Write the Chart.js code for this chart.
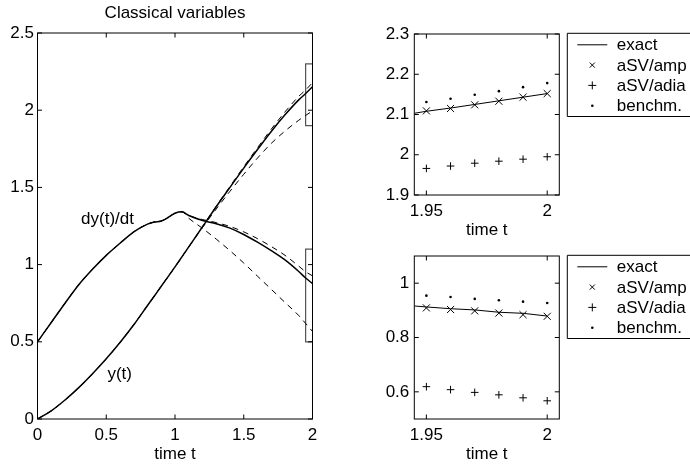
<!DOCTYPE html>
<html>
<head>
<meta charset="utf-8">
<script src="https://cdn.jsdelivr.net/npm/chart.js@4.4.0/dist/chart.umd.min.js"></script>
<style>
  html, body { margin: 0; padding: 0; background: #fff; overflow: hidden; width: 690px; height: 466px; }
  .panel { position: absolute; }
</style>
</head>
<body>
<div class="panel" style="left:0;top:0"><canvas id="main" width="345" height="466"></canvas></div>
<div class="panel" style="left:345px;top:0"><canvas id="zoomTop" width="360" height="242"></canvas></div>
<div class="panel" style="left:345px;top:240px"><canvas id="zoomBot" width="360" height="226"></canvas></div>
<script>
// ---- left panel: classical variables over 0..2
const tMain = [0, 0.1, 0.2, 0.3, 0.4, 0.5, 0.6, 0.7, 0.8, 0.85, 0.9, 0.95, 1.0, 1.05, 1.1, 1.2, 1.3, 1.4, 1.5, 1.6, 1.7, 1.8, 1.9, 1.95, 2.0];
const yExact   = [0, 0.053, 0.123, 0.203, 0.293, 0.39, 0.495, 0.61, 0.735, 0.797, 0.86, 0.922, 0.985, 1.05, 1.115, 1.245, 1.375, 1.5, 1.625, 1.745, 1.862, 1.97, 2.067, 2.108, 2.152];
const yBench   = [0, 0.053, 0.123, 0.203, 0.293, 0.39, 0.495, 0.61, 0.735, 0.797, 0.86, 0.922, 0.985, 1.05, 1.115, 1.247, 1.379, 1.507, 1.634, 1.757, 1.877, 1.989, 2.09, 2.131, 2.178];
const yAdia    = [0, 0.053, 0.123, 0.203, 0.293, 0.39, 0.495, 0.61, 0.735, 0.797, 0.86, 0.922, 0.985, 1.05, 1.114, 1.24, 1.36, 1.475, 1.585, 1.69, 1.785, 1.865, 1.935, 1.966, 1.995];
const dyExact  = [0.5, 0.625, 0.75, 0.87, 0.97, 1.06, 1.138, 1.212, 1.262, 1.276, 1.282, 1.305, 1.333, 1.342, 1.318, 1.286, 1.265, 1.236, 1.195, 1.145, 1.09, 1.03, 0.955, 0.913, 0.877];
const dyBench  = [0.5, 0.625, 0.75, 0.87, 0.97, 1.06, 1.138, 1.212, 1.262, 1.276, 1.282, 1.305, 1.333, 1.342, 1.318, 1.292, 1.272, 1.247, 1.212, 1.168, 1.117, 1.06, 0.99, 0.954, 0.927];
const dyAdia   = [0.5, 0.625, 0.75, 0.87, 0.97, 1.06, 1.138, 1.212, 1.262, 1.276, 1.282, 1.305, 1.333, 1.342, 1.30, 1.235, 1.165, 1.09, 1.01, 0.925, 0.84, 0.755, 0.67, 0.619, 0.567];
const mainXTicks = [0, 0.5, 1, 1.5, 2];
const mainYTicks = [0, 0.5, 1, 1.5, 2, 2.5];

// zoom windows marked on the left panel
const zoomT = [1.95, 2];
const zoomTopY = [1.9, 2.3];
const zoomBotY = [0.5, 1.1];

// ---- right panels: close-up of t in [1.95, 2]
const tExactZoom = [1.945, 1.95, 1.96, 1.97, 1.98, 1.99, 2.0];
const tZoom = [1.95, 1.96, 1.97, 1.98, 1.99, 2.0];
const topExact = [2.103, 2.108, 2.116, 2.125, 2.134, 2.143, 2.152];
const topAmp   = [2.109, 2.115, 2.124, 2.133, 2.143, 2.152];
const topAdia  = [1.966, 1.972, 1.979, 1.984, 1.989, 1.995];
const topBench = [2.131, 2.139, 2.149, 2.158, 2.168, 2.178];
const botExact = [0.916, 0.9125, 0.906, 0.9015, 0.893, 0.889, 0.879];
const botAmp   = [0.909, 0.903, 0.898, 0.890, 0.884, 0.878];
const botAdia  = [0.619, 0.608, 0.598, 0.589, 0.578, 0.567];
const botBench = [0.954, 0.949, 0.942, 0.937, 0.932, 0.927];
const zoomXTicks = [1.95, 2];
const topYTicks = [1.9, 2, 2.1, 2.2, 2.3];
const botYTicks = [0.6, 0.8, 1];
const seriesNames = ['exact', 'aSV/amp', 'aSV/adia', 'benchm.'];

Chart.defaults.font.family = '"Liberation Sans", Arial, Helvetica, sans-serif';
Chart.defaults.font.size = 17;
Chart.defaults.color = '#000';

const pts = (xs, ys) => xs.map((x, i) => ({ x: x, y: ys[i] }));

function drawMarker(ctx, style, r, x, y) {
  ctx.beginPath();
  if (style === 'crossRot') {
    const d = r * Math.SQRT1_2;
    ctx.moveTo(x - d, y - d); ctx.lineTo(x + d, y + d);
    ctx.moveTo(x + d, y - d); ctx.lineTo(x - d, y + d);
    ctx.stroke();
  } else if (style === 'cross') {
    ctx.moveTo(x - r, y); ctx.lineTo(x + r, y);
    ctx.moveTo(x, y - r); ctx.lineTo(x, y + r);
    ctx.stroke();
  } else {
    ctx.arc(x, y, r, 0, Math.PI * 2);
    ctx.fill();
  }
}

// box around the axes and the inward tick marks
const frame = {
  id: 'frame',
  afterDraw(chart) {
    const { ctx, chartArea: a, scales } = chart;
    const len = 4.5;
    ctx.save();
    ctx.strokeStyle = '#000';
    ctx.lineWidth = 1;
    ctx.strokeRect(a.left, a.top, a.right - a.left, a.bottom - a.top);
    ctx.beginPath();
    scales.x.ticks.forEach(t => {
      const p = scales.x.getPixelForValue(t.value);
      ctx.moveTo(p, a.bottom); ctx.lineTo(p, a.bottom - len);
      ctx.moveTo(p, a.top); ctx.lineTo(p, a.top + len);
    });
    scales.y.ticks.forEach(t => {
      const p = scales.y.getPixelForValue(t.value);
      ctx.moveTo(a.left, p); ctx.lineTo(a.left + len, p);
      ctx.moveTo(a.right, p); ctx.lineTo(a.right - len, p);
    });
    ctx.stroke();
    ctx.restore();
  }
};

// title and the curve names on the left panel
const notes = {
  id: 'notes',
  afterDraw(chart, args, opts) {
    const { ctx, chartArea: a, scales } = chart;
    ctx.save();
    ctx.fillStyle = '#000';
    ctx.font = '17px "Liberation Sans", Arial, sans-serif';
    ctx.textAlign = 'center';
    ctx.textBaseline = 'middle';
    if (opts.title) ctx.fillText(opts.title, (a.left + a.right) / 2, opts.titleY);
    (opts.items || []).forEach(n => {
      ctx.fillText(n.text, scales.x.getPixelForValue(n.x), scales.y.getPixelForValue(n.y));
    });
    ctx.restore();
  }
};

// boxed legend to the right of a zoom panel (its right side runs off the page)
const boxLegend = {
  id: 'boxLegend',
  afterDraw(chart, args, opts) {
    if (!opts.show) return;
    const { ctx, chartArea: a, width } = chart;
    const left = a.right + 8, top = a.top - 0.7, rowH = 20.3;
    const sets = chart.data.datasets.filter(d => d.label);
    const bottom = top + rowH * sets.length + 2;
    ctx.save();
    ctx.strokeStyle = '#000';
    ctx.fillStyle = '#000';
    ctx.lineWidth = 1;
    ctx.beginPath();
    ctx.moveTo(width + 5, top); ctx.lineTo(left, top); ctx.lineTo(left, bottom); ctx.lineTo(width + 5, bottom);
    ctx.stroke();
    ctx.font = '17px "Liberation Sans", Arial, sans-serif';
    ctx.textBaseline = 'middle';
    sets.forEach((d, i) => {
      const y = top + 11.5 + i * rowH;
      const cx = left + 25;
      if (d.pointRadius === 0) {
        ctx.beginPath(); ctx.moveTo(left + 10, y); ctx.lineTo(left + 40, y); ctx.stroke();
      } else {
        drawMarker(ctx, d.pointStyle, d.legendRadius, cx, y);
      }
      ctx.fillText(d.label, left + 49.5, y + 1);
    });
    ctx.restore();
  }
};

function xAxis(min, max, ticks) {
  return {
    type: 'linear', min: min, max: max,
    grid: { display: false, drawTicks: false },
    border: { display: false },
    afterBuildTicks: s => { s.ticks = ticks.map(v => ({ value: v })); },
    afterFit: s => { s.height = 47; },
    ticks: { padding: 6, maxRotation: 0, autoSkip: false, callback: v => String(v) },
    title: { display: true, text: 'time t', padding: { top: 0, bottom: 1 } }
  };
}
function yAxis(min, max, ticks, width, pad) {
  return {
    type: 'linear', min: min, max: max,
    grid: { display: false, drawTicks: false },
    border: { display: false },
    afterBuildTicks: s => { s.ticks = ticks.map(v => ({ value: v })); },
    afterFit: s => { s.width = width; },
    ticks: { padding: pad, autoSkip: false, callback: v => String(v) }
  };
}

const solid = (data) => ({ data: data, borderColor: '#000', borderWidth: 1.5, pointRadius: 0, tension: 0.3, cubicInterpolationMode: 'monotone' });
const dashed = (data) => ({ data: data, borderColor: '#000', borderWidth: 1, borderDash: [6, 5], pointRadius: 0, tension: 0.3, cubicInterpolationMode: 'monotone' });
const rect = (xr, yr) => ({
  data: [{ x: xr[1], y: yr[1] }, { x: xr[0], y: yr[1] }, { x: xr[0], y: yr[0] }, { x: xr[1], y: yr[0] }],
  borderColor: '#555', borderWidth: 1.2, pointRadius: 0, tension: 0
});

const common = {
  responsive: false,
  animation: false,
  events: [],
  plugins: { legend: { display: false }, tooltip: { enabled: false } }
};

new Chart(document.getElementById('main'), {
  type: 'line',
  data: {
    datasets: [
      solid(pts(tMain, yExact)),
      dashed(pts(tMain, yBench)),
      dashed(pts(tMain, yAdia)),
      solid(pts(tMain, dyExact)),
      dashed(pts(tMain, dyBench)),
      dashed(pts(tMain, dyAdia)),
      rect(zoomT, zoomTopY),
      rect(zoomT, zoomBotY)
    ]
  },
  options: Object.assign({}, common, {
    layout: { padding: { top: 33, right: 32.5, left: 0, bottom: 0 } },
    scales: { x: xAxis(0, 2, mainXTicks), y: yAxis(0, 2.5, mainYTicks, 37.5, 3.5) },
    plugins: Object.assign({}, common.plugins, {
      notes: { title: 'Classical variables', titleY: 13, items: [
        { text: 'dy(t)/dt', x: 0.509, y: 1.295 },
        { text: 'y(t)', x: 0.598, y: 0.291 }
      ] }
    })
  }),
  plugins: [frame, notes]
});

function zoomChart(id, exact, amp, adia, bench, yMin, yMax, yTicks, padTop) {
  return new Chart(document.getElementById(id), {
    type: 'line',
    data: {
      datasets: [
        { label: seriesNames[0], data: pts(tExactZoom, exact), borderColor: '#000', borderWidth: 1, pointRadius: 0, tension: 0 },
        { label: seriesNames[1], data: pts(tZoom, amp), showLine: false, pointStyle: 'crossRot', pointRadius: 5, legendRadius: 3.6, borderColor: '#000', borderWidth: 1 },
        { label: seriesNames[2], data: pts(tZoom, adia), showLine: false, pointStyle: 'cross', pointRadius: 3.8, legendRadius: 4, borderColor: '#000', borderWidth: 1 },
        { label: seriesNames[3], data: pts(tZoom, bench), showLine: false, pointStyle: 'circle', pointRadius: 1.3, legendRadius: 1.3, borderWidth: 0, backgroundColor: '#000', borderColor: '#000' }
      ]
    },
    options: Object.assign({}, common, {
      layout: { padding: { top: padTop, right: 145.7, left: 0, bottom: 0 } },
      scales: { x: xAxis(1.945, 2.005, zoomXTicks), y: yAxis(yMin, yMax, yTicks, 69.3, 5) },
      plugins: Object.assign({}, common.plugins, { boxLegend: { show: true } })
    }),
    plugins: [frame, boxLegend]
  });
}

zoomChart('zoomTop', topExact, topAmp, topAdia, topBench, 1.9, 2.3, topYTicks, 34);
zoomChart('zoomBot', botExact, botAmp, botAdia, botBench, 0.5, 1.1, botYTicks, 16);
</script>
</body>
</html>
